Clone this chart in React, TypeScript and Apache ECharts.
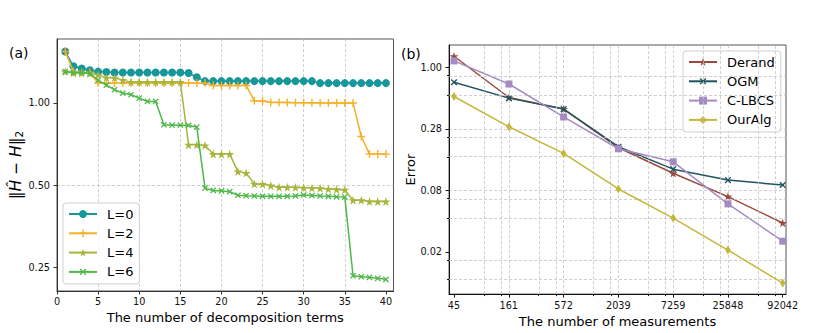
import React, { useEffect, useRef } from 'react';
import * as echarts from 'echarts';

const FONT = 'DejaVu Sans';

// ---------- Panel (a) ----------
const terms = [1, 2, 3, 4, 5, 6, 7, 8, 9, 10, 11, 12, 13, 14, 15, 16, 17, 18, 19, 20,
  21, 22, 23, 24, 25, 26, 27, 28, 29, 30, 31, 32, 33, 34, 35, 36, 37, 38, 39, 40];
const errL0 = [1.54, 1.36, 1.335, 1.315, 1.30, 1.295, 1.29, 1.29, 1.29, 1.29, 1.29, 1.29, 1.29, 1.29, 1.29,
  1.285, 1.24, 1.20, 1.20, 1.20, 1.20, 1.20, 1.20, 1.20, 1.20, 1.20, 1.20, 1.20, 1.20, 1.20, 1.20,
  1.18, 1.18, 1.18, 1.18, 1.18, 1.18, 1.18, 1.18, 1.18];
const errL2 = [1.54, 1.30, 1.29, 1.29, 1.18, 1.18, 1.18, 1.18, 1.18, 1.18, 1.18, 1.18, 1.18, 1.18, 1.18, 1.18, 1.18, 1.18,
  1.157, 1.157, 1.157, 1.157, 1.157, 1.017, 1.015, 1.003, 1.003, 1.002, 1.001, 1.0, 1.0, 0.999, 0.999, 0.998, 0.998, 0.998,
  0.753, 0.649, 0.649, 0.649];
const errL4 = [1.30, 1.285, 1.285, 1.28, 1.265, 1.235, 1.235, 1.21, 1.19, 1.19, 1.19, 1.19, 1.19, 1.19, 1.19,
  0.702, 0.702, 0.698, 0.649, 0.649, 0.649, 0.560, 0.553, 0.505, 0.504, 0.498, 0.491, 0.491, 0.490, 0.489, 0.488,
  0.487, 0.484, 0.482, 0.480, 0.440, 0.440, 0.435, 0.435, 0.435];
const errL6 = [1.30, 1.29, 1.29, 1.28, 1.21, 1.16, 1.116, 1.085, 1.07, 1.04, 1.011, 1.011, 0.831, 0.828, 0.828, 0.826, 0.815,
  0.487, 0.478, 0.476, 0.473, 0.459, 0.457, 0.456, 0.455, 0.455, 0.455, 0.455, 0.456, 0.460, 0.458, 0.456, 0.455, 0.453, 0.452,
  0.233, 0.231, 0.230, 0.228, 0.226];
const leftNames = ['L=0', 'L=2', 'L=4', 'L=6'];
const leftTickValues = [0.25, 0.5, 1.0];

// ---------- Panel (b) ----------
const measurements = [45, 161, 572, 2039, 7259, 25848, 92042];
const errDerand = [1.26, 0.537, 0.423, 0.190, 0.112, 0.0692, 0.0401];
const errOGM = [0.736, 0.530, 0.423, 0.194, 0.122, 0.0973, 0.0879];
const errCLBCS = [1.144, 0.710, 0.359, 0.186, 0.142, 0.0595, 0.0275];
const errOurAlg = [0.548, 0.293, 0.169, 0.081, 0.0444, 0.0229, 0.01157];
const rightNames = ['Derand', 'OGM', 'C-LBCS', 'OurAlg'];
const minorMultipliers = [2, 3];

const PLUS = 'path://M-0.17,-1L0.17,-1L0.17,-0.17L1,-0.17L1,0.17L0.17,0.17L0.17,1L-0.17,1L-0.17,0.17L-1,0.17L-1,-0.17L-0.17,-0.17Z';
const STAR = 'path://M0,-1L0.2234,-0.3074L0.9511,-0.309L0.3614,0.1174L0.5878,0.809L0,0.38L-0.5878,0.809L-0.3614,0.1174L-0.9511,-0.309L-0.2234,-0.3074Z';
const THIN_DIAMOND = 'path://M0,-1L0.62,0L0,1L-0.62,0Z';

const GRID_LINE = { type: [3, 2] as number[], color: '#c4c4c4', width: 0.8 };
const AX = '#333';

export default function App() {
  const ref = useRef<HTMLDivElement>(null);
  useEffect(() => {
    if (!ref.current) return;
    const chart = echarts.init(ref.current, undefined, { renderer: 'svg' });

    const base = Math.pow(measurements[measurements.length - 1] / measurements[0], 1 / (measurements.length - 1));
    const lb = (v: number) => Math.log(v) / Math.log(base);
    const xPos = (m: number) => lb(m / measurements[0]);
    const isInt = (v: number) => Math.abs(v - Math.round(v)) < 1e-6;

    const leftTicks = leftTickValues.map((v) => Math.log2(v));
    const rightXTicks = measurements.map((_, i) => i);
    const rightYMin = -3.689;
    const rightYMax = 0.365;
    const rightXMin = -0.091;
    const rightXMax = 6.06;
    const rightYTicks = [-3, -2, -1, 0];
    const minorX: number[] = [];
    rightXTicks.forEach((k) => minorMultipliers.forEach((m) => {
      const v = k + lb(m);
      if (v > rightXMin && v < rightXMax) minorX.push(v);
    }));
    const minorY: number[] = [];
    [-4, -3, -2, -1, 0].forEach((k) => minorMultipliers.forEach((m) => {
      const v = k + lb(m);
      if (v > rightYMin && v < rightYMax) minorY.push(v);
    }));

    const tickLabel = { fontSize: 9.7, fontFamily: FONT, color: '#111' };
    const nameStyle = { fontSize: 13, fontFamily: FONT, color: '#000' };

    const leftColors = ['#17979a', '#f5b027', '#a8b43b', '#4db848'];
    const leftSymbols = ['circle', PLUS, STAR, PLUS];
    const leftSizes = [8, 8, 9, 7.5];
    const leftRot = [0, 0, 0, 45];
    const leftData = [errL0, errL2, errL4, errL6];

    const rightColors = ['#9a4b3c', '#1d5561', '#a58bc1', '#c4b73b'];
    const rightSymbols = [STAR, PLUS, 'rect', THIN_DIAMOND];
    const rightSizes = [9, 8, 7, 9];
    const rightRot = [0, 45, 0, 0];
    const rightData = [errDerand, errOGM, errCLBCS, errOurAlg];

    const series: any[] = [];
    series.push({
      type: 'line', xAxisIndex: 1, yAxisIndex: 1, data: [], silent: true, z: 1,
      markLine: {
        silent: true, symbol: ['none', 'none'], label: { show: false }, animation: false,
        lineStyle: GRID_LINE,
        emphasis: { disabled: true },
        data: [...minorX.map((v) => ({ xAxis: v })), ...minorY.map((v) => ({ yAxis: v }))],
      },
    });
    leftNames.forEach((name, si) => {
      series.push({
        type: 'line', name, xAxisIndex: 0, yAxisIndex: 0,
        data: terms.map((n, i) => [n, Math.log2(leftData[si][i])]),
        symbol: leftSymbols[si], symbolSize: leftSizes[si], symbolRotate: leftRot[si],
        lineStyle: { width: 1.5, color: leftColors[si] },
        itemStyle: { color: leftColors[si] },
        z: 2 + si,
      });
    });
    rightNames.forEach((name, si) => {
      series.push({
        type: 'line', name, xAxisIndex: 1, yAxisIndex: 1,
        data: measurements.map((m, i) => [xPos(m), lb(rightData[si][i])]),
        symbol: rightSymbols[si], symbolSize: rightSizes[si], symbolRotate: rightRot[si],
        symbolKeepAspect: true,
        lineStyle: { width: 1.5, color: rightColors[si] },
        itemStyle: { color: rightColors[si] },
        z: 2 + si,
      });
    });

    const legendCommon = {
      orient: 'vertical', itemWidth: 28, itemHeight: 10, itemGap: 5.3,
      borderColor: '#cfcfcf', borderWidth: 1, borderRadius: 3,
      backgroundColor: 'rgba(255,255,255,0.85)',
      textStyle: { fontSize: 13, fontFamily: FONT, color: '#000', lineHeight: 14, padding: [0, 0, 0, 5] },
      selectedMode: false,
    };

    chart.setOption({
      animation: false,
      textStyle: { fontFamily: FONT },
      grid: [
        { left: 57, top: 39, width: 336.5, height: 252, show: true, borderColor: '#555', borderWidth: 1, backgroundColor: 'transparent' },
        { left: 449, top: 45, width: 337, height: 251, show: true, borderColor: '#555', borderWidth: 1, backgroundColor: 'transparent' },
      ],
      legend: [
        { ...legendCommon, data: leftNames, left: 63, top: 203, padding: [4, 6, 5, 5] },
        { ...legendCommon, data: rightNames, left: 683, top: 51, padding: [4, 6, 5, 5] },
      ],
      xAxis: [
        {
          type: 'value', gridIndex: 0, min: 0, max: 40.92, interval: 5,
          name: 'The number of decomposition terms', nameLocation: 'middle', nameGap: 18, nameTextStyle: nameStyle,
          axisLine: { show: true, onZero: false, lineStyle: { color: AX } },
          axisTick: { show: true, length: 3.5, lineStyle: { color: AX }, customValues: [0, 5, 10, 15, 20, 25, 30, 35, 40] },
          axisLabel: { ...tickLabel, margin: 5, customValues: [0, 5, 10, 15, 20, 25, 30, 35, 40],
            formatter: (v: number) => (Math.abs(v / 5 - Math.round(v / 5)) < 1e-6 ? String(Math.round(v)) : '') },
          splitLine: { show: true, showMinLine: false, showMaxLine: false, lineStyle: GRID_LINE },
        },
        {
          type: 'value', gridIndex: 1, min: rightXMin, max: rightXMax, splitNumber: 6,
          name: 'The number of measurements', nameLocation: 'middle', nameGap: 19, nameTextStyle: nameStyle,
          axisLine: { show: true, onZero: false, lineStyle: { color: '#111' } },
          axisTick: { show: true, length: 3.5, lineStyle: { color: '#111' }, customValues: rightXTicks },
          axisLabel: { ...tickLabel, margin: 6, customValues: rightXTicks,
            formatter: (v: number) => (isInt(v) && Math.round(v) >= 0 && Math.round(v) < measurements.length ? String(measurements[Math.round(v)]) : '') },
          splitLine: { show: true, showMinLine: false, showMaxLine: false, lineStyle: GRID_LINE },
        },
        {
          type: 'value', gridIndex: 1, min: rightXMin, max: rightXMax, position: 'bottom',
          axisLine: { show: false, onZero: false },
          axisTick: { show: true, length: 2, lineStyle: { color: '#111' }, customValues: minorX },
          axisLabel: { show: false },
          splitLine: { show: false },
        },
      ],
      yAxis: [
        {
          type: 'value', gridIndex: 0, min: Math.log2(0.2049), max: Math.log2(1.711), splitNumber: 3,
          name: '‖{i|Ĥ} − {i|H}‖{s|2}', nameLocation: 'middle', nameGap: 27, nameRotate: 90,
          nameTextStyle: { ...nameStyle, fontSize: 15.5, rich: {
            i: { fontStyle: 'italic', fontSize: 15.5, fontFamily: FONT, color: '#000' },
            s: { fontSize: 10.5, fontFamily: FONT, color: '#000', padding: [7, 0, 0, 0] },
          } },
          axisLine: { show: true, onZero: false, lineStyle: { color: AX } },
          axisTick: { show: true, length: 3.5, lineStyle: { color: AX }, customValues: leftTicks },
          axisLabel: { ...tickLabel, margin: 7, customValues: leftTicks,
            formatter: (v: number) => (isInt(v) ? Math.pow(2, v).toFixed(2) : '') },
          splitLine: { show: true, showMinLine: false, showMaxLine: false, lineStyle: GRID_LINE },
        },
        {
          type: 'value', gridIndex: 1, min: rightYMin, max: rightYMax, splitNumber: 4,
          name: 'Error', nameLocation: 'middle', nameGap: 31, nameRotate: 90, nameTextStyle: nameStyle,
          axisLine: { show: true, onZero: false, lineStyle: { color: '#111' } },
          axisTick: { show: true, length: 3.5, lineStyle: { color: '#111' }, customValues: rightYTicks },
          axisLabel: { ...tickLabel, margin: 7, customValues: rightYTicks,
            formatter: (v: number) => (isInt(v) ? Math.pow(base, v).toFixed(2) : '') },
          splitLine: { show: true, showMinLine: false, showMaxLine: false, lineStyle: GRID_LINE },
        },
        {
          type: 'value', gridIndex: 1, min: rightYMin, max: rightYMax, position: 'left',
          axisLine: { show: false, onZero: false },
          axisTick: { show: true, length: 2, lineStyle: { color: '#111' }, customValues: minorY },
          axisLabel: { show: false },
          splitLine: { show: false },
        },
      ],
      graphic: [
        { type: 'text', left: 9, top: 46, style: { text: '(a)', fontSize: 14, fontFamily: FONT, fill: '#000' } },
        { type: 'text', left: 401, top: 47, style: { text: '(b)', fontSize: 14, fontFamily: FONT, fill: '#000' } },
      ],
      series,
    });
    return () => chart.dispose();
  }, []);
  return <div ref={ref} style={{ position: 'absolute', left: 0, top: 0, width: 830, height: 333 }} />;
}
